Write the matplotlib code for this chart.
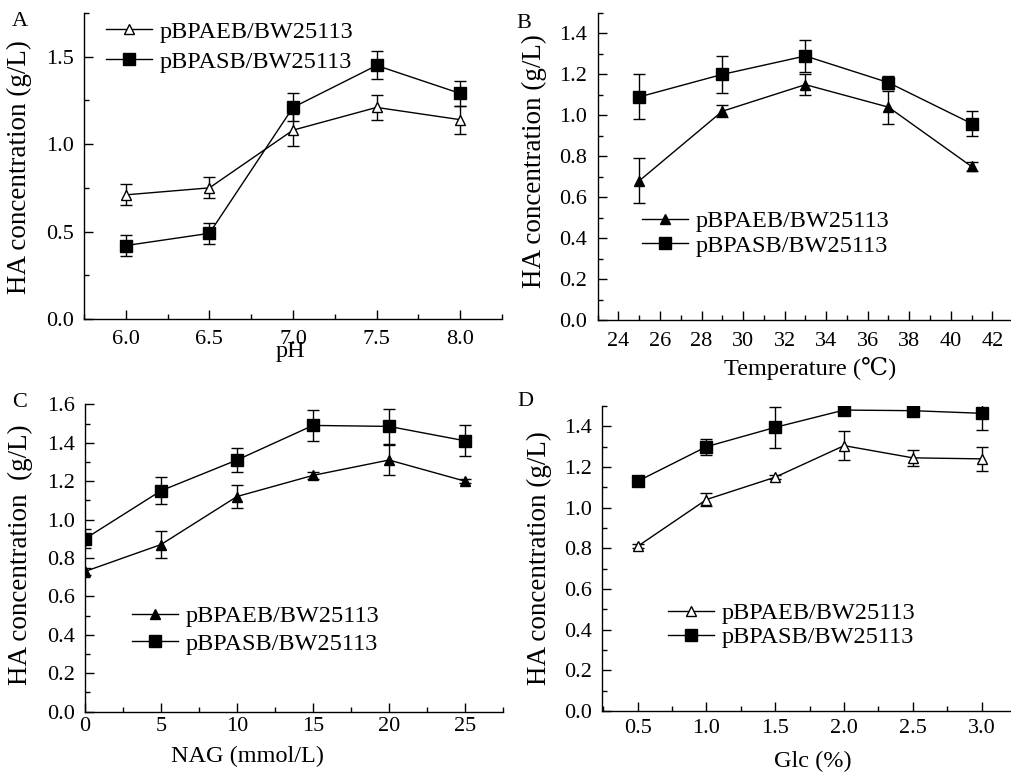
import matplotlib
matplotlib.use("Agg")
import matplotlib.pyplot as plt
import numpy as np
from matplotlib.ticker import MultipleLocator, FormatStrFormatter

plt.rcParams['font.family'] = ['Liberation Serif', 'DejaVu Serif', 'Noto Sans CJK SC']

# ---------------- data ----------------
label_aeb = "pBPAEB/BW25113"
label_asb = "pBPASB/BW25113"
ylabel_text = "HA concentration (g/L)"

ph = [6.0, 6.5, 7.0, 7.5, 8.0]
ph_aeb = [0.71, 0.75, 1.08, 1.21, 1.14]
ph_aeb_err = [0.06, 0.06, 0.09, 0.07, 0.08]
ph_asb = [0.42, 0.49, 1.21, 1.45, 1.29]
ph_asb_err = [0.06, 0.06, 0.08, 0.08, 0.07]

temp = [25, 29, 33, 37, 41]
temp_aeb = [0.68, 1.02, 1.15, 1.04, 0.75]
temp_aeb_err = [0.11, 0.03, 0.05, 0.08, 0.02]
temp_asb = [1.09, 1.20, 1.29, 1.16, 0.96]
temp_asb_err = [0.11, 0.09, 0.08, 0.03, 0.06]

nag = [0, 5, 10, 15, 20, 25]
nag_aeb = [0.73, 0.87, 1.12, 1.23, 1.31, 1.20]
nag_aeb_err = [0.02, 0.07, 0.06, 0.02, 0.08, 0.01]
nag_asb = [0.90, 1.15, 1.31, 1.49, 1.485, 1.41]
nag_asb_err = [0.05, 0.07, 0.06, 0.08, 0.09, 0.08]

glc = [0.5, 1.0, 1.5, 2.0, 2.5, 3.0]
glc_aeb = [0.81, 1.04, 1.15, 1.305, 1.245, 1.24]
glc_aeb_err = [0.01, 0.03, 0.01, 0.07, 0.04, 0.06]
glc_asb = [1.13, 1.30, 1.395, 1.48, 1.477, 1.464]
glc_asb_err = [0.01, 0.04, 0.10, 0.01, 0.01, 0.08]

W, H = 1011, 774
fig = plt.figure(figsize=(W / 100, H / 100), dpi=100)


def px_axes(l, t, r, b):
    return fig.add_axes([l / W, 1 - b / H, (r - l) / W, (b - t) / H])


TICK_FS = 16
LEG_FS = 17.5
XL_FS = 17.5
YL_FS = 19.5


def style(ax, xlim, ylim, xmaj, xmin, ymaj, ymin, xfmt, yfmt, xpad):
    for s in ['top', 'right']:
        ax.spines[s].set_visible(False)
    for s in ['left', 'bottom']:
        ax.spines[s].set_linewidth(1.0)
    ax.set_xlim(*xlim)
    ax.set_ylim(*ylim)
    ax.xaxis.set_major_locator(MultipleLocator(xmaj))
    ax.xaxis.set_minor_locator(MultipleLocator(xmin))
    ax.yaxis.set_major_locator(MultipleLocator(ymaj))
    ax.yaxis.set_minor_locator(MultipleLocator(ymin))
    ax.xaxis.set_major_formatter(FormatStrFormatter(xfmt))
    ax.yaxis.set_major_formatter(FormatStrFormatter(yfmt))
    ax.tick_params(which='both', direction='in', width=1.0, labelsize=TICK_FS)
    ax.tick_params(which='major', length=6.5)
    ax.tick_params(which='minor', length=3.5)
    ax.tick_params(axis='x', which='major', pad=xpad)
    ax.tick_params(axis='y', which='major', pad=7.5)


def draw(ax, x, y1, e1, y2, e2, aeb_filled):
    ax.errorbar(x, y1, yerr=e1, fmt='none', ecolor='black', elinewidth=1.0,
                capsize=4.5, capthick=1.0, zorder=2)
    ax.errorbar(x, y2, yerr=e2, fmt='none', ecolor='black', elinewidth=1.0,
                capsize=4.5, capthick=1.0, zorder=2)
    if aeb_filled:
        l1, = ax.plot(x, y1, color='black', lw=1.0, marker='^', ms=7.5,
                      mfc='black', mec='black', label=label_aeb, zorder=3)
    else:
        l1, = ax.plot(x, y1, color='black', lw=1.0, marker='^', ms=6.5,
                      mfc='white', mec='black', mew=1.0, label=label_aeb, zorder=3)
    l2, = ax.plot(x, y2, color='black', lw=1.0, marker='s', ms=8.5,
                  mfc='black', mec='black', label=label_asb, zorder=3)
    return [l1, l2]


def legend(ax, handles, x, y, spacing):
    ax.legend(handles=handles, loc='upper left', bbox_to_anchor=(x, y),
              frameon=False, fontsize=LEG_FS, handlelength=1.9,
              handletextpad=0.33, labelspacing=spacing, borderpad=0,
              borderaxespad=0, numpoints=1)


# ---- Panel A ----
axA = px_axes(84, 13, 502, 319)
style(axA, (5.75, 8.25), (0, 1.75), 0.5, 0.25, 0.5, 0.25, '%.1f', '%.1f', 8)
hA = draw(axA, ph, ph_aeb, ph_aeb_err, ph_asb, ph_asb_err, False)
axA.set_xlabel("pH", fontsize=XL_FS)
axA.set_ylabel(ylabel_text, fontsize=YL_FS)
axA.xaxis.set_label_coords(0.495, -0.072)
axA.yaxis.set_label_coords(-0.124, 0.495)
legend(axA, hA, 0.052, 0.975, 0.33)
fig.text(20 / W, 1 - 21 / H, "A", fontsize=16, ha='center', va='center')

# ---- Panel B ----
axB = px_axes(597.7, 13, 1011, 320)
style(axB, (23, 42.9), (0, 1.5), 2, 1, 0.2, 0.1, '%d', '%.1f', 9)
hB = draw(axB, temp, temp_aeb, temp_aeb_err, temp_asb, temp_asb_err, True)
axB.set_xlabel("Temperature (\u2103)", fontsize=XL_FS)
axB.set_ylabel(ylabel_text, fontsize=YL_FS)
axB.xaxis.set_label_coords(0.514, -0.122)
axB.yaxis.set_label_coords(-0.123, 0.518)
legend(axB, hB, 0.107, 0.358, 0.11)
fig.text(524 / W, 1 - 23 / H, "B", fontsize=16, ha='center', va='center')

# ---- Panel C ----
axC = px_axes(85, 404.3, 503, 711.7)
style(axC, (0, 27.5), (0, 1.6), 5, 2.5, 0.2, 0.1, '%d', '%.1f', 4)
hC = draw(axC, nag, nag_aeb, nag_aeb_err, nag_asb, nag_asb_err, True)
axC.set_xlabel("NAG (mmol/L)", fontsize=XL_FS)
axC.set_ylabel("HA concentration  (g/L)", fontsize=YL_FS)
axC.xaxis.set_label_coords(0.388, -0.11)
axC.yaxis.set_label_coords(-0.124, 0.51)
legend(axC, hC, 0.112, 0.346, 0.22)
fig.text(20 / W, 1 - 403 / H, "C", fontsize=16, ha='center', va='center')

# ---- Panel D ----
axD = px_axes(602.3, 406, 1011, 711)
style(axD, (0.243, 3.213), (0, 1.5), 0.5, 0.25, 0.2, 0.1, '%.1f', '%.1f', 6)
hD = draw(axD, glc, glc_aeb, glc_aeb_err, glc_asb, glc_asb_err, False)
axD.set_xlabel("Glc (%)", fontsize=XL_FS)
axD.set_ylabel(ylabel_text, fontsize=YL_FS)
axD.xaxis.set_label_coords(0.515, -0.132)
axD.yaxis.set_label_coords(-0.123, 0.503)
legend(axD, hD, 0.16, 0.357, 0.095)
fig.text(525 / W, 1 - 402 / H, "D", fontsize=16, ha='center', va='center')

fig.savefig("out.png", dpi=100)
